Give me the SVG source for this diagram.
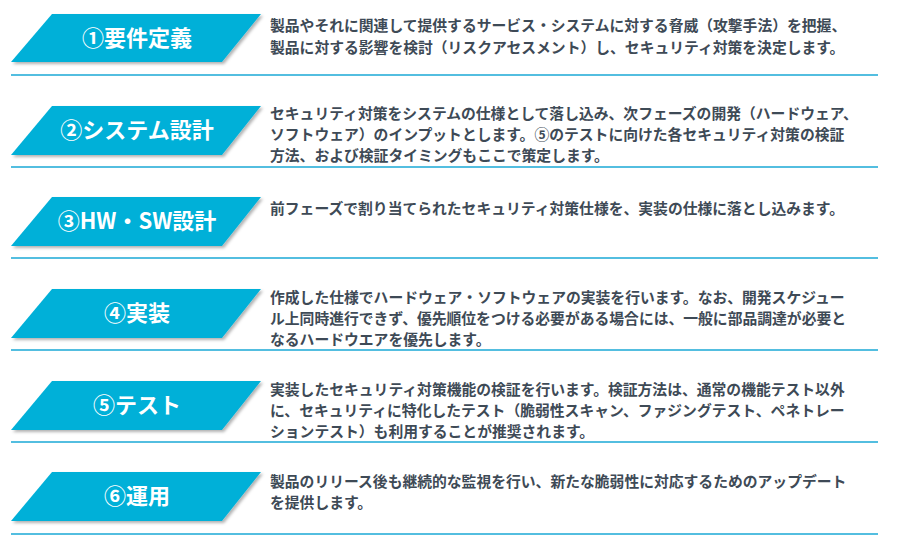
<svg xmlns="http://www.w3.org/2000/svg" width="900" height="547" viewBox="0 0 900 547">
<defs><style>
.p{fill:#00B0D8}
.l{stroke:#1AA8D6;stroke-width:1.3}
.t{font-family:"Noto Sans CJK JP","Noto Sans",sans-serif;font-weight:bold;font-size:22px;fill:#fff;text-anchor:middle}
.d{font-family:"Noto Sans CJK JP","Noto Sans",sans-serif;font-weight:bold;font-size:14.8px;fill:#3E4A56}
</style>
<filter id="s" x="-5%" y="-10%" width="115%" height="130%"><feDropShadow dx="2" dy="2" stdDeviation="1.5" flood-color="#000" flood-opacity="0.3"/></filter>
</defs>
<rect width="900" height="547" fill="#fff"/>
<g id="connectors">
<line class="l" x1="11" y1="75" x2="878" y2="75"/>
<line class="l" x1="11" y1="167" x2="878" y2="167"/>
<line class="l" x1="11" y1="258" x2="878" y2="258"/>
<line class="l" x1="11" y1="350" x2="878" y2="350"/>
<line class="l" x1="11" y1="442" x2="878" y2="442"/>
<line class="l" x1="11" y1="534" x2="878" y2="534"/>
</g>
<g id="n1"><polygon class="p" filter="url(#s)" points="52,14 261,14 222,62 11,62"/><text class="t" x="137" y="46">①要件定義</text>
<text class="d" x="270" y="31">製品やそれに関連して提供するサービス・システムに対する脅威（攻撃手法）を把握、</text>
<text class="d" x="270" y="53">製品に対する影響を検討（リスクアセスメント）し、セキュリティ対策を決定します。</text></g>
<g id="n2"><polygon class="p" filter="url(#s)" points="52,106 261,106 222,155 11,155"/><text class="t" x="137" y="138">②システム設計</text>
<text class="d" x="270" y="119">セキュリティ対策をシステムの仕様として落し込み、次フェーズの開発（ハードウェア、</text>
<text class="d" x="270" y="140">ソフトウェア）のインプットとします。⑤のテストに向けた各セキュリティ対策の検証</text>
<text class="d" x="270" y="161">方法、および検証タイミングもここで策定します。</text></g>
<g id="n3"><polygon class="p" filter="url(#s)" points="52,197 261,197 222,246 11,246"/><text class="t" x="137" y="229">③HW・SW設計</text>
<text class="d" x="270" y="214">前フェーズで割り当てられたセキュリティ対策仕様を、実装の仕様に落とし込みます。</text></g>
<g id="n4"><polygon class="p" filter="url(#s)" points="52,289 261,289 222,338 11,338"/><text class="t" x="137" y="321">④実装</text>
<text class="d" x="270" y="303">作成した仕様でハードウェア・ソフトウェアの実装を行います。なお、開発スケジュー</text>
<text class="d" x="270" y="324">ル上同時進行できず、優先順位をつける必要がある場合には、一般に部品調達が必要と</text>
<text class="d" x="270" y="345">なるハードウエアを優先します。</text></g>
<g id="n5"><polygon class="p" filter="url(#s)" points="52,381 261,381 222,430 11,430"/><text class="t" x="137" y="413">⑤テスト</text>
<text class="d" x="270" y="395">実装したセキュリティ対策機能の検証を行います。検証方法は、通常の機能テスト以外</text>
<text class="d" x="270" y="416">に、セキュリティに特化したテスト（脆弱性スキャン、ファジングテスト、ペネトレー</text>
<text class="d" x="270" y="437">ションテスト）も利用することが推奨されます。</text></g>
<g id="n6"><polygon class="p" filter="url(#s)" points="52,472 261,472 222,521 11,521"/><text class="t" x="137" y="504">⑥運用</text>
<text class="d" x="270" y="487">製品のリリース後も継続的な監視を行い、新たな脆弱性に対応するためのアップデート</text>
<text class="d" x="270" y="508">を提供します。</text></g>
</svg>
